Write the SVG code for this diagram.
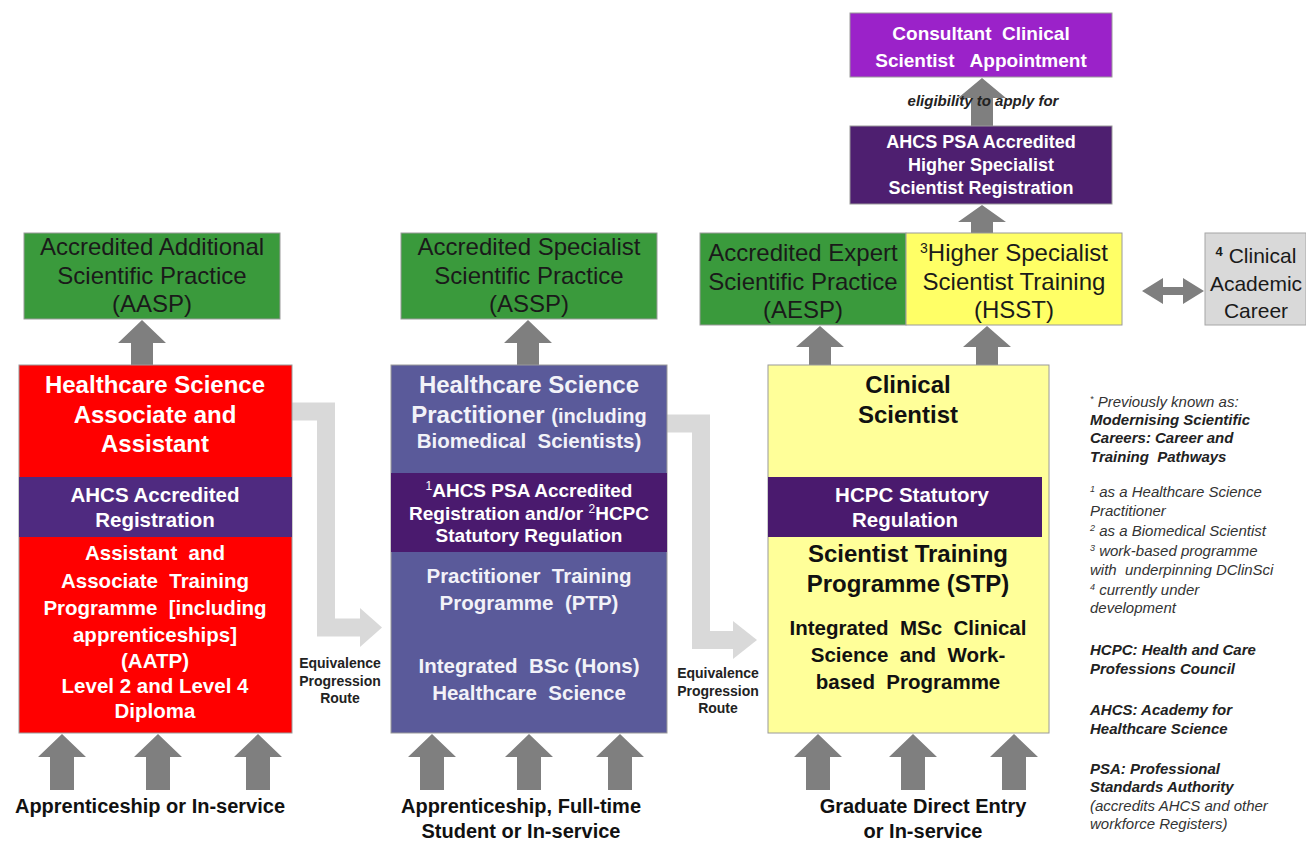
<svg xmlns="http://www.w3.org/2000/svg" width="1306" height="842" viewBox="0 0 1306 842">
<style>
text{font-family:"Liberation Sans",Arial,sans-serif;}
.box{stroke:#9a9a9a;stroke-width:1;}
.green{fill:#3a9a3c;}
.red{fill:#ff0000;}
.blue{fill:#5a5a9a;}
.band1{fill:#4f2a80;}
.band2{fill:#4a1a6e;}
.yel1{fill:#ffff66;}
.yel2{fill:#ffff99;}
.arr{fill:#7f7f7f;}
.elbow{fill:none;stroke:#d9d9d9;stroke-width:18;}
.head{fill:#d9d9d9;}
.g{font-size:24px;fill:#1a1a1a;text-anchor:middle;}
.h{font-size:24px;font-weight:bold;text-anchor:middle;}
.m{font-size:20.5px;font-weight:bold;text-anchor:middle;}
.b{font-size:19px;font-weight:bold;text-anchor:middle;}
.w{fill:#ffffff;}
.wb{fill:#f2f2f8;}
.k{fill:#111111;}
.eq{font-size:14px;font-weight:bold;fill:#222;text-anchor:middle;}
.lab{font-size:20px;font-weight:bold;fill:#111;text-anchor:middle;}
.n{font-size:15px;font-style:italic;fill:#333;}
.nb{font-size:15px;font-style:italic;font-weight:bold;fill:#222;}
</style>

<g id="connectors">
  <path class="arr" d="M50,790 V757 H38 L62,734 L86,757 H74 V790 Z"/>
  <path class="arr" d="M146,790 V757 H134 L158,734 L182,757 H170 V790 Z"/>
  <path class="arr" d="M246,790 V757 H234 L258,734 L282,757 H270 V790 Z"/>
  <path class="arr" d="M420,790 V757 H408 L432,734 L456,757 H444 V790 Z"/>
  <path class="arr" d="M517,790 V757 H505 L529,734 L553,757 H541 V790 Z"/>
  <path class="arr" d="M608,790 V757 H596 L620,734 L644,757 H632 V790 Z"/>
  <path class="arr" d="M806,790 V757 H794 L818,734 L842,757 H830 V790 Z"/>
  <path class="arr" d="M901,790 V757 H889 L913,734 L937,757 H925 V790 Z"/>
  <path class="arr" d="M1002,790 V757 H990 L1014,734 L1038,757 H1026 V790 Z"/>
  <path class="arr" d="M131,365 V343 H118 L142,320 L166,343 H153 V365 Z"/>
  <path class="arr" d="M517,365 V343 H504 L528,320 L552,343 H539 V365 Z"/>
  <path class="arr" d="M809,365 V347 H796 L820,326 L844,347 H831 V365 Z"/>
  <path class="arr" d="M976,365 V347 H963 L987,326 L1011,347 H998 V365 Z"/>
  <path class="arr" d="M971,233 V222 H958 L982,205 L1006,222 H993 V233 Z"/>
  <path class="arr" d="M971,126 V98 H958 L982,78 L1006,98 H993 V126 Z"/>
  <path class="arr" d="M1142,291 L1163,278 V287 H1183 V278 L1204,291 L1183,304 V295 H1163 V304 Z"/>
  <path class="elbow" d="M292,411.5 H326 V627.5 H362"/>
  <polygon class="head" points="360,608 382,627.5 360,647"/>
  <path class="elbow" d="M667,423.5 H701 V640 H735"/>
  <polygon class="head" points="733,621 757,640 733,659"/>
  <text class="eq" x="340" y="668">Equivalence</text>
  <text class="eq" x="340" y="686">Progression</text>
  <text class="eq" x="340" y="703">Route</text>
  <text class="eq" x="718" y="678">Equivalence</text>
  <text class="eq" x="718" y="696">Progression</text>
  <text class="eq" x="718" y="713">Route</text>
</g>

<g id="consultant">
  <rect class="box" x="850" y="13" width="262" height="64" fill="#9b22c9"/>
  <text class="b w" x="981" y="40" xml:space="preserve">Consultant  Clinical</text>
  <text class="b w" x="981" y="67" xml:space="preserve">Scientist   Appointment</text>
</g>
<g id="eligibility">
  <text x="983" y="106" font-size="15" font-weight="bold" font-style="italic" fill="#222" text-anchor="middle">eligibility to apply for</text>
</g>
<g id="psa-registration">
  <rect class="box" x="850" y="126" width="262" height="78" fill="#4e1f70"/>
  <text x="981" y="148" font-size="18" font-weight="bold" fill="#fff" text-anchor="middle">AHCS PSA Accredited</text>
  <text x="981" y="171" font-size="18" font-weight="bold" fill="#fff" text-anchor="middle">Higher Specialist</text>
  <text x="981" y="194" font-size="18" font-weight="bold" fill="#fff" text-anchor="middle">Scientist Registration</text>
</g>

<g id="aasp">
  <rect class="box green" x="24" y="233" width="256" height="86"/>
  <text class="g" x="152" y="255">Accredited Additional</text>
  <text class="g" x="152" y="284">Scientific Practice</text>
  <text class="g" x="152" y="312">(AASP)</text>
</g>
<g id="assp">
  <rect class="box green" x="401" y="233" width="256" height="86"/>
  <text class="g" x="529" y="255">Accredited Specialist</text>
  <text class="g" x="529" y="284">Scientific Practice</text>
  <text class="g" x="529" y="312">(ASSP)</text>
</g>
<g id="aesp">
  <rect class="box green" x="700" y="233" width="206" height="92"/>
  <text class="g" x="803" y="261">Accredited Expert</text>
  <text class="g" x="803" y="290">Scientific Practice</text>
  <text class="g" x="803" y="318">(AESP)</text>
</g>
<g id="hsst">
  <rect class="box yel1" x="906" y="233" width="216" height="92"/>
  <text class="g" x="1014" y="261"><tspan font-size="14" dy="-8">3</tspan><tspan dy="8">Higher Specialist</tspan></text>
  <text class="g" x="1014" y="290">Scientist Training</text>
  <text class="g" x="1014" y="318">(HSST)</text>
</g>
<g id="clinical-academic">
  <rect x="1205" y="233" width="101" height="92" fill="#d9d9d9" stroke="#a6a6a6"/>
  <text x="1256" y="263" font-size="21" fill="#1a1a1a" text-anchor="middle"><tspan font-size="13" font-weight="bold" dy="-7">4</tspan><tspan dy="7"> Clinical</tspan></text>
  <text x="1256" y="291" font-size="21" fill="#1a1a1a" text-anchor="middle">Academic</text>
  <text x="1256" y="318" font-size="21" fill="#1a1a1a" text-anchor="middle">Career</text>
</g>

<g id="associate">
  <rect class="box red" x="19" y="365" width="273" height="368"/>
  <rect class="band1" x="19" y="477" width="273" height="60"/>
  <text class="h w" x="155" y="393">Healthcare Science</text>
  <text class="h w" x="155" y="423">Associate and</text>
  <text class="h w" x="155" y="452">Assistant</text>
  <text class="m w" x="155" y="502">AHCS Accredited</text>
  <text class="m w" x="155" y="527">Registration</text>
  <text class="m w" x="155" y="560" xml:space="preserve">Assistant  and</text>
  <text class="m w" x="155" y="588" xml:space="preserve">Associate  Training</text>
  <text class="m w" x="155" y="615" xml:space="preserve">Programme  [including</text>
  <text class="m w" x="155" y="642">apprenticeships]</text>
  <text class="m w" x="155" y="668">(AATP)</text>
  <text class="m w" x="155" y="693">Level 2 and Level 4</text>
  <text class="m w" x="155" y="718">Diploma</text>
</g>

<g id="practitioner">
  <rect class="box blue" x="391" y="365" width="276" height="368"/>
  <rect class="band2" x="391" y="473" width="276" height="79"/>
  <text class="h wb" x="529" y="393">Healthcare Science</text>
  <text class="h wb" x="529" y="423">Practitioner <tspan font-size="20">(including</tspan></text>
  <text class="m wb" x="529" y="448" xml:space="preserve">Biomedical  Scientists)</text>
  <text class="b w" x="529" y="497"><tspan font-size="12" font-weight="normal" dy="-7">1</tspan><tspan dy="7">AHCS PSA Accredited</tspan></text>
  <text class="b w" x="529" y="520">Registration and/or <tspan font-size="12" font-weight="normal" dy="-7">2</tspan><tspan dy="7">HCPC</tspan></text>
  <text class="b w" x="529" y="542">Statutory Regulation</text>
  <text class="m wb" x="529" y="583" xml:space="preserve">Practitioner  Training</text>
  <text class="m wb" x="529" y="610" xml:space="preserve">Programme  (PTP)</text>
  <text class="m wb" x="529" y="673" xml:space="preserve">Integrated  BSc (Hons)</text>
  <text class="m wb" x="529" y="700" xml:space="preserve">Healthcare  Science</text>
</g>

<g id="clinical-scientist">
  <rect class="box yel2" x="768" y="365" width="281" height="368"/>
  <rect class="band2" x="768" y="477" width="274" height="60"/>
  <text class="h k" x="908" y="393">Clinical</text>
  <text class="h k" x="908" y="423">Scientist</text>
  <text class="m w" x="912" y="502">HCPC Statutory</text>
  <text class="m w" x="905" y="527">Regulation</text>
  <text class="h k" x="908" y="562">Scientist Training</text>
  <text class="h k" x="908" y="592">Programme (STP)</text>
  <text class="m k" x="908" y="635" xml:space="preserve">Integrated  MSc  Clinical</text>
  <text class="m k" x="908" y="662" xml:space="preserve">Science  and  Work-</text>
  <text class="m k" x="908" y="689" xml:space="preserve">based  Programme</text>
</g>

<g id="entry-labels">
  <text class="lab" x="150" y="813">Apprenticeship or In-service</text>
  <text class="lab" x="521" y="813">Apprenticeship, Full-time</text>
  <text class="lab" x="521" y="838">Student or In-service</text>
  <text class="lab" x="923" y="813">Graduate Direct Entry</text>
  <text class="lab" x="923" y="838">or In-service</text>
</g>

<g id="notes">
  <text class="n" x="1090" y="407"><tspan font-size="9" dy="-5">*</tspan><tspan dy="5"> Previously known as:</tspan></text>
  <text class="nb" x="1090" y="425">Modernising Scientific</text>
  <text class="nb" x="1090" y="443">Careers: Career and</text>
  <text class="nb" x="1090" y="462" xml:space="preserve">Training  Pathways</text>
  <text class="n" x="1090" y="497"><tspan font-size="9" dy="-5">1</tspan><tspan dy="5"> as a Healthcare Science</tspan></text>
  <text class="n" x="1090" y="516">Practitioner</text>
  <text class="n" x="1090" y="536"><tspan font-size="9" dy="-5">2</tspan><tspan dy="5"> as a Biomedical Scientist</tspan></text>
  <text class="n" x="1090" y="556"><tspan font-size="9" dy="-5">3</tspan><tspan dy="5"> work-based programme</tspan></text>
  <text class="n" x="1090" y="575" xml:space="preserve">with  underpinning DClinSci</text>
  <text class="n" x="1090" y="595"><tspan font-size="9" dy="-5">4</tspan><tspan dy="5"> currently under</tspan></text>
  <text class="n" x="1090" y="613">development</text>
  <text class="nb" x="1090" y="655">HCPC: Health and Care</text>
  <text class="nb" x="1090" y="674">Professions Council</text>
  <text class="nb" x="1090" y="715">AHCS: Academy for</text>
  <text class="nb" x="1090" y="734">Healthcare Science</text>
  <text class="nb" x="1090" y="774">PSA: Professional</text>
  <text class="nb" x="1090" y="792">Standards Authority</text>
  <text class="n" x="1090" y="811">(accredits AHCS and other</text>
  <text class="n" x="1090" y="829">workforce Registers)</text>
</g>
</svg>
